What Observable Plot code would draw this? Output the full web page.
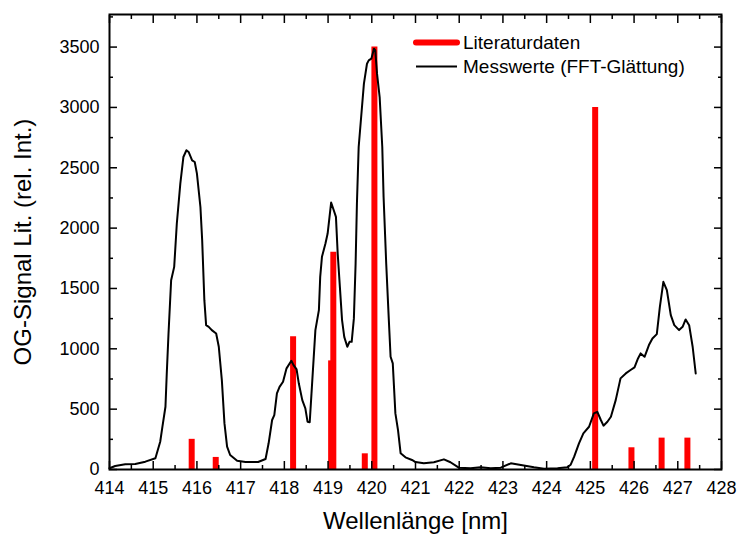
<!DOCTYPE html>
<html><head><meta charset="utf-8">
<script src="https://cdn.jsdelivr.net/npm/d3@7"></script>
<script src="https://cdn.jsdelivr.net/npm/@observablehq/plot@0.6"></script>
<style>
body{margin:0;background:#fff;}
#wrap{position:relative;width:737px;height:535px;font-family:"Liberation Sans",Arial,sans-serif;}
#legend{position:absolute;left:0;top:0;pointer-events:none;}
</style></head><body><div id="wrap"></div>
<script>
// Literaturdaten (line positions and relative intensities)
const litX = [415.88, 416.43, 418.20, 419.07, 419.12, 419.84, 420.06, 425.11, 425.94, 426.63, 427.22];
const litY = [250, 100, 1100, 900, 1800, 130, 3500, 3000, 180, 260, 260];

// Messwerte (FFT-Glättung)
const measX = [414.00,414.13,414.36,414.59,414.82,415.05,415.16,415.21,415.28,415.31,415.35,415.41,415.48,415.54,415.62,415.69,415.76,415.81,415.89,415.95,416.00,416.08,416.12,416.17,416.21,416.27,416.34,416.44,416.50,416.57,416.63,416.69,416.76,416.92,417.11,417.30,417.40,417.57,417.64,417.72,417.77,417.83,417.89,417.97,418.05,418.16,418.21,418.28,418.33,418.41,418.48,418.53,418.58,418.63,418.71,418.79,418.82,418.86,418.94,418.99,419.07,419.13,419.18,419.22,419.27,419.32,419.37,419.44,419.49,419.54,419.59,419.63,419.66,419.70,419.82,419.89,419.93,419.99,420.05,420.08,420.12,420.18,420.24,420.27,420.33,420.39,420.43,420.48,420.54,420.60,420.66,420.77,420.92,421.00,421.19,421.42,421.65,421.80,421.99,422.26,422.49,422.72,422.95,423.18,423.41,423.71,423.94,424.25,424.47,424.55,424.63,424.74,424.84,424.97,425.08,425.16,425.24,425.30,425.39,425.47,425.58,425.69,425.81,425.92,426.01,426.09,426.15,426.24,426.34,426.42,426.52,426.59,426.67,426.75,426.84,426.92,427.03,427.11,427.18,427.26,427.34,427.41];
const measY = [10,29,43,45,65,93,230,354,520,796,1127,1568,1679,2038,2369,2589,2645,2631,2562,2548,2452,2175,1900,1403,1196,1182,1155,1127,1017,741,382,189,120,73,62,62,62,87,217,410,451,631,685,727,838,901,865,829,714,575,507,396,391,685,1155,1320,1596,1762,1872,1955,2212,2148,2093,1790,1513,1238,1099,1017,1058,1058,1250,1707,2204,2672,3197,3362,3390,3404,3487,3473,3280,3086,2672,2258,1707,1238,934,879,465,327,134,101,79,62,51,60,84,60,15,10,18,10,15,51,37,18,7,10,18,40,106,217,300,354,465,478,410,363,396,437,575,755,796,824,846,920,962,934,1031,1086,1122,1348,1555,1486,1279,1196,1155,1182,1243,1196,1017,796];

// tick values
const xTickValues = [414,415,416,417,418,419,420,421,422,423,424,425,426,427,428];
const xMinorValues = [414.5,415.5,416.5,417.5,418.5,419.5,420.5,421.5,422.5,423.5,424.5,425.5,426.5,427.5];
const yTickValues = [0,500,1000,1500,2000,2500,3000,3500];
const yMinorValues = [250,750,1250,1750,2250,2750,3250,3750];

const seriesNames = ["Literaturdaten", "Messwerte (FFT-Glättung)"];
const xTitle = "Wellenlänge [nm]";
const yTitle = "OG-Signal Lit. (rel. Int.)";

const lit = litX.map((x, i) => ({x, y: litY[i]}));
const meas = measX.map((x, i) => ({x, y: measY[i]}));

const W = 737, H = 535, mL = 109, mR = 16, mT = 14, mB = 66;
const majorLen = 8, minorLen = 4;
const font = "'Liberation Sans', Arial, sans-serif";
const blank = () => "";

function inwardTicks(anchor, ticks, len) {
  const opts = {anchor, ticks, tickSize: -len, tickFormat: blank, label: null, stroke: "black", strokeWidth: 1.5};
  return (anchor === "top" || anchor === "bottom") ? Plot.axisX(opts) : Plot.axisY(opts);
}

const chart = Plot.plot({
  width: W, height: H,
  marginLeft: mL, marginRight: mR, marginTop: mT, marginBottom: mB,
  style: {fontFamily: font, color: "black", background: "white"},
  x: {domain: [414, 428]},
  y: {domain: [0, 3770]},
  marks: [
    Plot.ruleX(lit, {x: "x", y1: 0, y2: "y", stroke: "#ff0000", strokeWidth: 6}),
    Plot.line(meas, {x: "x", y: "y", stroke: "black", strokeWidth: 2, strokeLinejoin: "round"}),
    inwardTicks("bottom", xTickValues, majorLen),
    inwardTicks("bottom", xMinorValues, minorLen),
    inwardTicks("top", xTickValues, majorLen),
    inwardTicks("top", xMinorValues, minorLen),
    inwardTicks("left", yTickValues, majorLen),
    inwardTicks("left", yMinorValues, minorLen),
    inwardTicks("right", yTickValues, majorLen),
    inwardTicks("right", yMinorValues, minorLen),
    Plot.frame({stroke: "black", strokeWidth: 2}),
    Plot.axisX({ticks: xTickValues, tickSize: 0, tickPadding: 12, fontSize: 18, label: null, tickFormat: d => String(d)}),
    Plot.axisY({ticks: yTickValues, tickSize: 0, tickPadding: 10, fontSize: 18, label: null, tickFormat: d => String(d)}),
    Plot.text([xTitle], {text: d => d, frameAnchor: "bottom", textAnchor: "middle", lineAnchor: "middle", dy: 52, fontSize: 24, fill: "black"}),
    Plot.text([yTitle], {text: d => d, frameAnchor: "left", textAnchor: "middle", lineAnchor: "middle", dx: -86, rotate: -90, fontSize: 24, fill: "black"})
  ]
});

const wrap = document.getElementById("wrap");
wrap.appendChild(chart);

// legend overlay
const ns = "http://www.w3.org/2000/svg";
const leg = document.createElementNS(ns, "svg");
leg.setAttribute("id", "legend");
leg.setAttribute("width", W);
leg.setAttribute("height", H);
const legendItems = [
  {name: seriesNames[0], color: "#ff0000", width: 6, y: 42.5},
  {name: seriesNames[1], color: "black", width: 2, y: 66.5}
];
legendItems.forEach(it => {
  const ln = document.createElementNS(ns, "line");
  ln.setAttribute("x1", 416); ln.setAttribute("x2", 457);
  ln.setAttribute("y1", it.y); ln.setAttribute("y2", it.y);
  ln.setAttribute("stroke", it.color); ln.setAttribute("stroke-width", it.width);
  ln.setAttribute("stroke-linecap", it.width > 3 ? "round" : "butt");
  leg.appendChild(ln);
  const t = document.createElementNS(ns, "text");
  t.setAttribute("x", 463); t.setAttribute("y", it.y + 6.8);
  t.setAttribute("font-family", font); t.setAttribute("font-size", 19);
  t.setAttribute("fill", "black");
  t.textContent = it.name;
  leg.appendChild(t);
});
wrap.appendChild(leg);
</script>
</body></html>
